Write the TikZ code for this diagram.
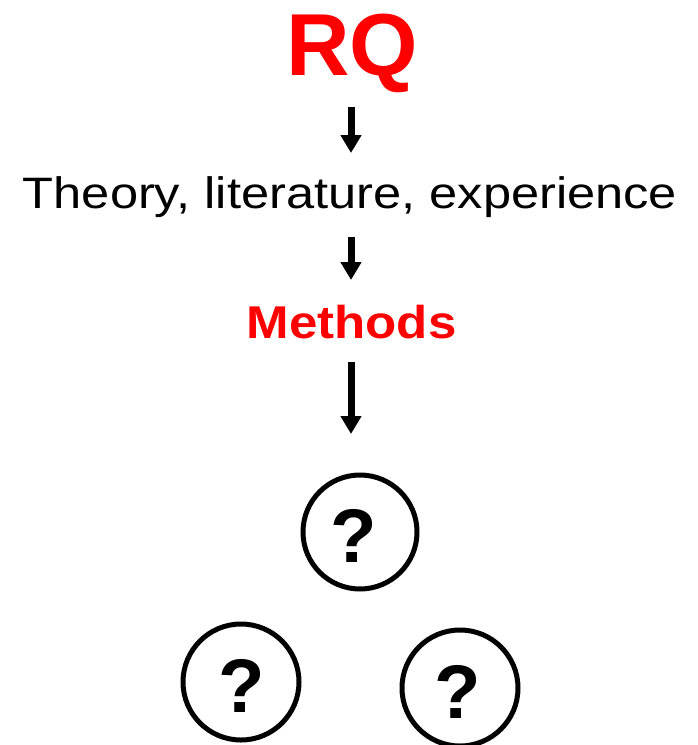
\documentclass[tikz,border=0pt]{standalone}
\usepackage{fontspec}
\setmainfont{Liberation Sans}
\usetikzlibrary{arrows.meta}
\begin{document}
\begin{tikzpicture}[x=1pt,y=-1pt,
  lbl/.style={inner sep=0pt,outer sep=0pt,anchor=base},
  arr/.style={line width=7pt,-{Triangle[width=20pt,length=18pt]}},
  qcirc/.style={circle,draw,line width=5pt,minimum size=114pt,inner sep=0pt,outer sep=0pt,
    text height=61pt,text depth=0pt,font=\bfseries\fontsize{76}{76}\selectfont}]
\useasboundingbox (0,0) rectangle (697,745);
\node[lbl,text=red,font=\bfseries\fontsize{88}{88}\selectfont,text height=63pt,text depth=0pt] (rq) at (352,75) {RQ};
\node[lbl,font=\fontsize{44}{44}\selectfont,text height=32pt,text depth=9pt] (theory) at (350,208) {\scalebox{1.15}[1]{Theory, literature, experience}};
\node[lbl,text=red,font=\bfseries\fontsize{46}{46}\selectfont,text height=34pt,text depth=0pt] (methods) at (351.5,338) {\scalebox{1.11}[1]{Methods}};
\node[qcirc] (c1) at (360,532) {\kern-12pt?};
\node[qcirc,minimum size=116pt] (c2) at (241,682) {\kern2pt?};
\node[qcirc,minimum size=116pt] (c3) at (460,688) {\kern-4pt?};
\draw[arr,shorten <=32pt,shorten >=23pt] ([xshift=-1pt]rq.south) -- ([xshift=-1pt]rq.south |- theory.north);
\draw[arr,shorten <=20pt,shorten >=24pt] ([xshift=1pt]theory.south) -- ([xshift=1pt]theory.south |- methods.north);
\draw[arr,shorten <=24pt,shorten >=41pt] ([xshift=-0.5pt]methods.south) -- ([xshift=-0.5pt]methods.south |- c1.north);
\end{tikzpicture}
\end{document}
